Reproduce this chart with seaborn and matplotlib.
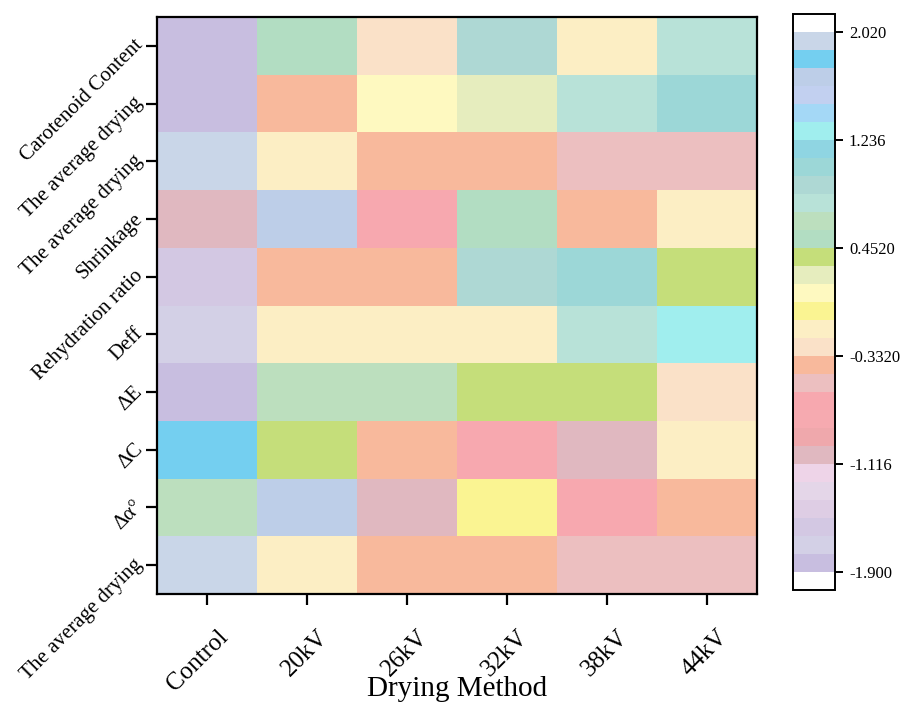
import numpy as np
import pandas as pd
import matplotlib
matplotlib.use("Agg")
import matplotlib.pyplot as plt
from matplotlib.colors import ListedColormap, BoundaryNorm
from matplotlib.transforms import ScaledTranslation
import seaborn as sns

# Row / column labels
methods = ["Control", "20kV", "26kV", "32kV", "38kV", "44kV"]
indicators = ["Carotenoid Content", "The average drying", "The average drying",
              "Shrinkage", "Rehydration ratio", "Deff", "ΔE", "ΔC", "Δα°",
              "The average drying"]

# Standardised values per indicator (rows) and drying method (columns)
carotenoid = [-1.84, 0.52, -0.27, 0.91, -0.14, 0.78]
avg_drying_a = [-1.84, -0.40, 0.13, 0.26, 0.78, 1.04]
avg_drying_b = [1.96, -0.14, -0.40, -0.40, -0.53, -0.53]
shrinkage = [-1.05, 1.69, -0.66, 0.52, -0.40, -0.14]
rehydration = [-1.57, -0.40, -0.40, 0.91, 1.04, 0.39]
deff = [-1.70, -0.14, -0.14, -0.14, 0.78, 1.30]
delta_e = [-1.84, 0.65, 0.65, 0.39, 0.39, -0.27]
delta_c = [1.82, 0.39, -0.40, -0.66, -1.05, -0.14]
delta_alpha = [0.65, 1.69, -1.05, -0.01, -0.66, -0.40]
avg_drying_c = [1.96, -0.14, -0.40, -0.40, -0.53, -0.53]

# Colour scale limits and tick labels
vmin, vmax = -1.900, 2.020
cbar_ticks = [-1.900, -1.116, -0.3320, 0.4520, 1.236, 2.020]
cbar_ticklabels = ["-1.900", "-1.116", "-0.3320", "0.4520", "1.236", "2.020"]

# Discrete palette, lowest to highest level
level_colors = [
    "#C8BEE0", "#D3D0E6", "#D3C8E3", "#DECDE4", "#E4D6E8", "#EED4E8",
    "#E0B8C0", "#EFA8AC", "#F6AAB0", "#F7A8AF", "#ECBFC0", "#F8B99C",
    "#FAE1C8", "#FCEEC4", "#FAF492", "#FEF9C0", "#E6EDBE", "#C5DE7A",
    "#B2DDC2", "#BCDFBE", "#B8E2D8", "#AED8D4", "#9CD7D7", "#8FD5E2",
    "#A0EEEE", "#A4D8F6", "#C2D0F0", "#BDCEE8", "#74CFF0", "#C9D6E8",
]

data = pd.DataFrame(
    [carotenoid, avg_drying_a, avg_drying_b, shrinkage, rehydration, deff,
     delta_e, delta_c, delta_alpha, avg_drying_c],
    columns=methods,
)

cmap = ListedColormap(level_colors)
cmap.set_over("white")
cmap.set_under("white")
bounds = np.linspace(vmin, vmax, len(level_colors) + 1)
norm = BoundaryNorm(bounds, cmap.N)

sns.set_theme(style="ticks")
plt.rcParams["font.family"] = ["Liberation Serif", "DejaVu Serif"]
plt.rcParams.update({
    "text.color": "black", "axes.labelcolor": "black",
    "xtick.color": "black", "ytick.color": "black",
    "axes.edgecolor": "black",
})

fig = plt.figure(figsize=(9.04, 7.04), dpi=100)
ax = fig.add_axes([157 / 904, 110 / 704, 600 / 904, 577 / 704])
cax = fig.add_axes([793 / 904, 114 / 704, 42 / 904, 576 / 704])

sns.heatmap(
    data, ax=ax, cbar_ax=cax, cmap=cmap, norm=norm,
    cbar_kws=dict(extend="both", extendrect=True, extendfrac=1 / 30,
                  ticks=cbar_ticks),
)

for side in ["left", "bottom", "right", "top"]:
    ax.spines[side].set_visible(True)
    ax.spines[side].set_linewidth(1.6)
    ax.spines[side].set_color("black")

ax.tick_params(axis="both", direction="out", length=8, width=1.6, color="black")
ax.tick_params(axis="x", pad=15)
ax.tick_params(axis="y", pad=2)
ax.set_yticklabels(indicators, rotation=45, ha="right", va="baseline",
                   rotation_mode="anchor", fontsize=15)
ax.set_xticklabels(methods, rotation=45, ha="right", va="top",
                   rotation_mode="anchor", fontsize=18)
# nudge the slanted method labels to the right of their ticks
shift = ScaledTranslation(0.10, 0, fig.dpi_scale_trans)
for lbl in ax.get_xticklabels():
    lbl.set_transform(lbl.get_transform() + shift)
ax.set_xlabel("Drying Method", fontsize=21)
ax.xaxis.set_label_coords(0.5, -0.142)
ax.set_ylabel("")

cbar = ax.collections[0].colorbar
cbar.set_ticklabels(cbar_ticklabels)
cbar.ax.minorticks_off()
cbar.ax.tick_params(length=6, width=1.4, labelsize=12, pad=4, direction="out")
cbar.outline.set_linewidth(1.4)
cbar.outline.set_edgecolor("black")

fig.savefig("out.png", dpi=100)
